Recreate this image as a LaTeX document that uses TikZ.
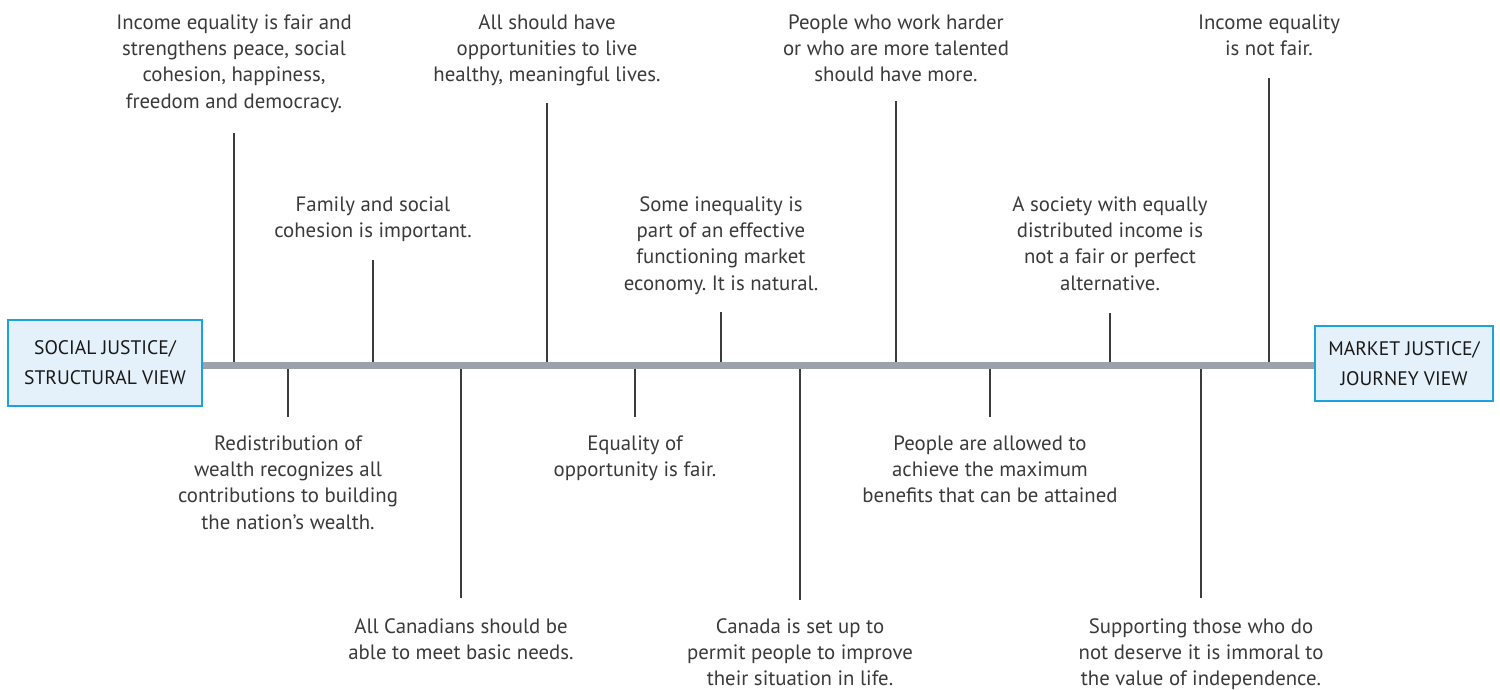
\documentclass[tikz,border=0pt]{standalone}
\usepackage{fontspec}
\setmainfont{PT Sans}
\frenchspacing
\definecolor{txtgray}{HTML}{3A3A3A}
\definecolor{stemgray}{HTML}{3C3C3C}
\definecolor{bargray}{HTML}{9CA1AA}
\definecolor{boxblue}{HTML}{1BA3DD}
\definecolor{boxfill}{HTML}{E4F1FA}
\newcommand{\bodyfont}{\fontsize{20.8}{26.3}\selectfont}
\newcommand{\firstline}{\rule{0pt}{20pt}}
\begin{document}
\begin{tikzpicture}[x=1pt,y=-1pt,
  lbl/.style={align=center, inner sep=0pt, anchor=north, font=\bodyfont, text=txtgray},
  stem/.style={draw=stemgray, line width=1.3pt},
  bar/.style={draw=bargray, line width=7pt},
  endbox/.style={draw=boxblue, line width=2.6pt, fill=boxfill, inner sep=0pt,
    align=center, text=black!90, font=\fontsize{19.6}{30}\selectfont}]
\useasboundingbox (0,0) rectangle (1500,689);

% end boxes
\node[endbox, minimum width=194pt, minimum height=86pt] (L) at (105,363) {SOCIAL JUSTICE/\\STRUCTURAL VIEW};
\node[endbox, minimum width=178pt, minimum height=75pt] (R) at (1404,363.5) {MARKET JUSTICE/\\JOURNEY VIEW};

% axis bar
\coordinate (bl) at (L.east |- 0,365.5);
\coordinate (br) at (R.west |- 0,365.5);
\draw[bar] (bl) -- (br);

% upper labels (y = first baseline - 20)
\node[lbl] (t1) at (234,9) {\firstline Income equality is fair and\\strengthens peace, social\\cohesion, happiness,\\freedom and democracy.};
\node[lbl] (t2) at (373,191) {\firstline Family and social\\cohesion is important.};
\node[lbl] (t3) at (547,9) {\firstline All should have\\opportunities to live\\healthy, meaningful lives.};
\node[lbl] (t4) at (721,191) {\firstline Some inequality is\\part of an effective\\functioning market\\economy. It is natural.};
\node[lbl] (t5) at (896,9) {\firstline People who work harder\\or who are more talented\\should have more.};
\node[lbl] (t6) at (1110,191) {\firstline A society with equally\\distributed income is\\not a fair or perfect\\alternative.};
\node[lbl] (t7) at (1269,9) {\firstline Income equality\\is not fair.};

% lower labels
\node[lbl] (b1) at (288,430) {\firstline Redistribution of\\wealth recognizes all\\contributions to building\\the nation’s wealth.};
\node[lbl] (b2) at (461,613) {\firstline All Canadians should be\\able to meet basic needs.};
\node[lbl] (b3) at (635,430) {\firstline Equality of\\opportunity is fair.};
\node[lbl] (b4) at (800,613) {\firstline Canada is set up to\\permit people to improve\\their situation in life.};
\node[lbl] (b5) at (990,430) {\firstline People are allowed to\\achieve the maximum\\benefits that can be attained};
\node[lbl] (b6) at (1201,613) {\firstline Supporting those who do\\not deserve it is immoral to\\the value of independence.};

% stems: upper
\foreach \n/\x/\y in {u1/234/133, u2/373/260, u3/547/103, u4/721/312, u5/896/101, u6/1110/313, u7/1269/78}{
  \coordinate (\n a) at (\x,\y);
  \coordinate (\n b) at (\x,362);
  \draw[stem] (\n a) -- (\n b);
}
% stems: lower
\foreach \n/\x/\y in {d1/288/417, d2/461/598, d3/635/417, d4/800/600, d5/990/417, d6/1201/598}{
  \coordinate (\n a) at (\x,369);
  \coordinate (\n b) at (\x,\y);
  \draw[stem] (\n a) -- (\n b);
}
\end{tikzpicture}
\end{document}
